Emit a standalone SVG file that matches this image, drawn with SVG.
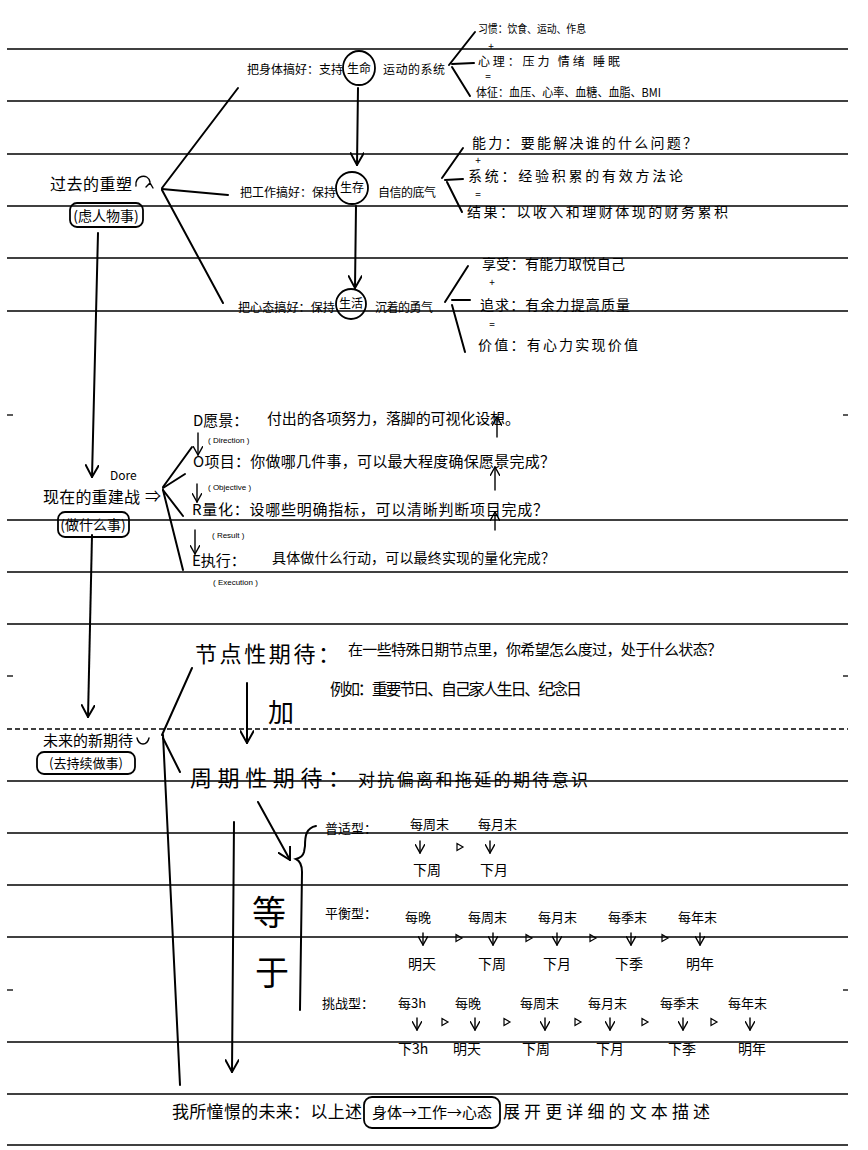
<svg xmlns="http://www.w3.org/2000/svg" width="868" height="1150" viewBox="0 0 868 1150">
<style>
.rl{stroke:#000;stroke-width:1.3;fill:none}
.dl{stroke:#000;stroke-width:1.3;stroke-dasharray:5 3;fill:none}
.c{stroke:#000;stroke-width:2;fill:none;stroke-linecap:round}
.ct{stroke:#000;stroke-width:1.4;fill:none;stroke-linecap:round}
.tri{stroke:#000;stroke-width:1.2;fill:none}
.bx{stroke:#000;stroke-width:1.8;fill:none}
text{font-family:"Noto Sans CJK SC","Noto Sans",sans-serif;fill:#000}
.s10{font-size:10px}.s11{font-size:11px}.s12{font-size:12px}.s13{font-size:13px}.s14{font-size:14px}.s15{font-size:15px}.s16{font-size:16px}.s17{font-size:17px}.s22{font-size:22px}
.sm{font-size:8px;font-family:"Liberation Sans",sans-serif}
</style>
<defs>
<marker id="ah" viewBox="0 0 10 10" refX="9" refY="5" markerWidth="7" markerHeight="7" orient="auto-start-reverse"><path d="M0,0 L9,5 L0,10" fill="none" stroke="#000" stroke-width="1.4"/></marker>
<polygon id="tri" class="tri" points="-3,-3.5 3,0 -3,3.5"/>
</defs>
<rect width="868" height="1150" fill="#fff"/>
<g id="rules">
<line class="rl" x1="7" y1="49" x2="848" y2="49"/>
<line class="rl" x1="7" y1="101" x2="848" y2="101"/>
<line class="rl" x1="7" y1="154" x2="848" y2="154"/>
<line class="rl" x1="7" y1="206" x2="848" y2="206"/>
<line class="rl" x1="7" y1="258" x2="848" y2="258"/>
<line class="rl" x1="7" y1="311" x2="848" y2="311"/>
<line class="rl" x1="7" y1="415" x2="13" y2="415"/><line class="rl" x1="843" y1="415" x2="848" y2="415"/>
<line class="rl" x1="7" y1="520" x2="848" y2="520"/>
<line class="rl" x1="7" y1="572" x2="848" y2="572"/>
<line class="rl" x1="7" y1="624" x2="848" y2="624"/>
<line class="rl" x1="7" y1="676" x2="13" y2="676"/><line class="rl" x1="843" y1="676" x2="848" y2="676"/>
<line class="dl" x1="7" y1="729" x2="848" y2="729"/>
<line class="rl" x1="7" y1="781" x2="848" y2="781"/>
<line class="rl" x1="7" y1="833" x2="848" y2="833"/>
<line class="rl" x1="7" y1="885" x2="848" y2="885"/>
<line class="rl" x1="7" y1="937" x2="848" y2="937"/>
<line class="rl" x1="7" y1="990" x2="13" y2="990"/><line class="rl" x1="843" y1="990" x2="848" y2="990"/>
<line class="rl" x1="7" y1="1042" x2="848" y2="1042"/>
<line class="rl" x1="7" y1="1094" x2="848" y2="1094"/>
<line class="rl" x1="7" y1="1145" x2="848" y2="1145"/>
</g>
<g id="connectors">
<line class="c" x1="162" y1="188" x2="238" y2="88"/>
<line class="c" x1="162" y1="189" x2="228" y2="195"/>
<line class="c" x1="162" y1="190" x2="223" y2="303"/>
<line class="c" x1="358" y1="88" x2="357" y2="165" marker-end="url(#ah)"/>
<line class="c" x1="356" y1="206" x2="355" y2="288" marker-end="url(#ah)"/>
<line class="c" x1="449" y1="65" x2="475" y2="32"/>
<line class="c" x1="452" y1="64" x2="474" y2="63"/>
<line class="c" x1="452" y1="67" x2="470" y2="96"/>
<line class="c" x1="442" y1="178" x2="463" y2="148"/>
<line class="c" x1="445" y1="180" x2="463" y2="179"/>
<line class="c" x1="447" y1="182" x2="462" y2="212"/>
<line class="c" x1="445" y1="302" x2="468" y2="266"/>
<line class="c" x1="452" y1="300" x2="470" y2="300"/>
<line class="c" x1="452" y1="305" x2="465" y2="352"/>
<line class="c" x1="98" y1="233" x2="92" y2="477" marker-end="url(#ah)"/>
<line class="c" x1="163" y1="487" x2="192" y2="447"/>
<line class="c" x1="163" y1="488" x2="185" y2="474"/>
<line class="c" x1="163" y1="490" x2="183" y2="516"/>
<line class="c" x1="163" y1="490" x2="183" y2="570"/>
<line class="ct" x1="198" y1="433" x2="198" y2="455" marker-end="url(#ah)"/>
<line class="ct" x1="197" y1="484" x2="197" y2="502" marker-end="url(#ah)"/>
<line class="ct" x1="195" y1="530" x2="195" y2="554" marker-end="url(#ah)"/>
<line class="ct" x1="497" y1="437" x2="497" y2="417" marker-end="url(#ah)"/>
<line class="ct" x1="495" y1="490" x2="495" y2="467" marker-end="url(#ah)"/>
<line class="ct" x1="495" y1="530" x2="495" y2="512" marker-end="url(#ah)"/>
<line class="c" x1="92" y1="535" x2="88" y2="717" marker-end="url(#ah)"/>
<line class="c" x1="162" y1="735" x2="192" y2="668"/>
<line class="c" x1="163" y1="738" x2="180" y2="772"/>
<line class="c" x1="163" y1="735" x2="180" y2="1085"/>
<line class="c" x1="247" y1="683" x2="247" y2="743" marker-end="url(#ah)"/>
<line class="c" x1="258" y1="802" x2="290" y2="860" marker-end="url(#ah)"/>
<line class="c" x1="234" y1="822" x2="232" y2="1072" marker-end="url(#ah)"/>
<path class="c" d="M316,826 C306,828 305,836 305,846 L304,852 C303,856 300,858 296,859 C300,861 302,865 302,872 L300,1010"/>
<path class="ct" d="M136,186 C134,176 148,172 150,182 M146,187 L150,183 L153,188"/>
<path class="ct" d="M137,738 C139,746 147,746 149,738"/>
<g id="seq-arrows">
<line class="ct" x1="420" y1="841" x2="420" y2="853" marker-end="url(#ah)"/>
<line class="ct" x1="490" y1="841" x2="490" y2="853" marker-end="url(#ah)"/>
<use href="#tri" x="460" y="847"/>
<line class="ct" x1="423" y1="933" x2="423" y2="945" marker-end="url(#ah)"/>
<line class="ct" x1="493" y1="933" x2="493" y2="945" marker-end="url(#ah)"/>
<line class="ct" x1="557" y1="933" x2="557" y2="945" marker-end="url(#ah)"/>
<line class="ct" x1="631" y1="933" x2="631" y2="945" marker-end="url(#ah)"/>
<line class="ct" x1="700" y1="933" x2="700" y2="945" marker-end="url(#ah)"/>
<use href="#tri" x="459" y="938"/>
<use href="#tri" x="529" y="938"/>
<use href="#tri" x="593" y="938"/>
<use href="#tri" x="665" y="938"/>
<line class="ct" x1="417" y1="1018" x2="417" y2="1030" marker-end="url(#ah)"/>
<line class="ct" x1="475" y1="1018" x2="475" y2="1030" marker-end="url(#ah)"/>
<line class="ct" x1="545" y1="1018" x2="545" y2="1030" marker-end="url(#ah)"/>
<line class="ct" x1="610" y1="1018" x2="610" y2="1030" marker-end="url(#ah)"/>
<line class="ct" x1="683" y1="1018" x2="683" y2="1030" marker-end="url(#ah)"/>
<line class="ct" x1="750" y1="1018" x2="750" y2="1030" marker-end="url(#ah)"/>
<use href="#tri" x="445" y="1022"/>
<use href="#tri" x="507" y="1022"/>
<use href="#tri" x="578" y="1022"/>
<use href="#tri" x="645" y="1022"/>
<use href="#tri" x="714" y="1022"/>
</g>
</g>
<g id="n-body">
<text class="s12" x="247" y="74" textLength="96" lengthAdjust="spacingAndGlyphs">把身体搞好：支持</text>
<ellipse class="bx" cx="359" cy="68" rx="16" ry="17"/>
<text class="s12" x="359" y="73" text-anchor="middle">生命</text>
<text class="s12" x="383" y="74" textLength="62">运动的系统</text>
<text class="s11" x="478" y="33" textLength="108" lengthAdjust="spacingAndGlyphs">习惯：饮食、运动、作息</text>
<text class="s10" x="491" y="50" text-anchor="middle">+</text>
<text class="s12" x="478" y="66" textLength="142">心理：压力 情绪 睡眠</text>
<text class="s10" x="488" y="80" text-anchor="middle">=</text>
<text class="s12" x="476" y="97" textLength="185" lengthAdjust="spacingAndGlyphs">体征：血压、心率、血糖、血脂、BMI</text>
</g>
<g id="n-work">
<text class="s12" x="240" y="197" textLength="96" lengthAdjust="spacingAndGlyphs">把工作搞好：保持</text>
<circle class="bx" cx="352" cy="188" r="16"/>
<text class="s12" x="352" y="192" text-anchor="middle">生存</text>
<text class="s12" x="378" y="197" textLength="58">自信的底气</text>
<text class="s14" x="472" y="148" textLength="225">能力：要能解决谁的什么问题？</text>
<text class="s10" x="478" y="164" text-anchor="middle">+</text>
<text class="s14" x="468" y="181" textLength="215">系统：经验积累的有效方法论</text>
<text class="s10" x="478" y="198" text-anchor="middle">=</text>
<text class="s14" x="467" y="217" textLength="261">结果：以收入和理财体现的财务累积</text>
</g>
<g id="n-mind">
<text class="s12" x="238" y="312" textLength="97" lengthAdjust="spacingAndGlyphs">把心态搞好：保持</text>
<circle class="bx" cx="351" cy="304" r="15"/>
<text class="s12" x="351" y="308" text-anchor="middle">生活</text>
<text class="s12" x="375" y="312" textLength="58">沉着的勇气</text>
<text class="s14" x="482" y="269" textLength="143">享受：有能力取悦自己</text>
<text class="s10" x="492" y="286" text-anchor="middle">+</text>
<text class="s14" x="480" y="310" textLength="150">追求：有余力提高质量</text>
<text class="s10" x="492" y="328" text-anchor="middle">=</text>
<text class="s14" x="478" y="350" textLength="160">价值：有心力实现价值</text>
</g>
<g id="n-past">
<text class="s16" x="50" y="190" textLength="82">过去的重塑</text>
<rect class="bx" x="70" y="203" width="73" height="24" rx="7"/>
<text class="s14" x="106" y="221" text-anchor="middle">(虑人物事)</text>
</g>
<g id="n-now">
<text class="s12" x="110" y="480" font-family="Liberation Sans">Dore</text>
<text class="s16" x="43" y="503" textLength="97">现在的重建战</text>
<text class="s16" x="145" y="502">⇒</text>
<rect class="bx" x="58" y="512" width="71" height="25" rx="7"/>
<text class="s14" x="93" y="530" text-anchor="middle">(做什么事)</text>
</g>
<g id="n-dore">
<text class="s15" x="193" y="426">D愿景：</text>
<text class="s15" x="267" y="424" textLength="253">付出的各项努力，落脚的可视化设想。</text>
<text class="sm" x="208" y="443">( Direction )</text>
<text class="s15" x="193" y="467" textLength="362">O项目：你做哪几件事，可以最大程度确保愿景完成？</text>
<text class="sm" x="208" y="490">( Objective )</text>
<text class="s15" x="192" y="515" textLength="356">R量化：设哪些明确指标，可以清晰判断项目完成？</text>
<text class="sm" x="212" y="538">( Result )</text>
<text class="s15" x="192" y="566">E执行：</text>
<text class="s14" x="272" y="563" textLength="283">具体做什么行动，可以最终实现的量化完成？</text>
<text class="sm" x="213" y="585">( Execution )</text>
</g>
<g id="n-future">
<text class="s15" x="43" y="746" textLength="90">未来的新期待</text>
<rect class="bx" x="37" y="752" width="98" height="22" rx="7"/>
<text class="s13" x="86" y="768" text-anchor="middle">(去持续做事)</text>
</g>
<g id="n-node">
<text class="s22" x="195" y="662" textLength="145">节点性期待：</text>
<text class="s15" x="348" y="655" textLength="374">在一些特殊日期节点里，你希望怎么度过，处于什么状态？</text>
<text x="268" y="722" font-size="26">加</text>
<text class="s16" x="330" y="695" textLength="252">例如：重要节日、自己家人生日、纪念日</text>
</g>
<g id="n-cycle">
<text class="s22" x="190" y="786" textLength="160">周期性期待：</text>
<text class="s17" x="358" y="786" textLength="230">对抗偏离和拖延的期待意识</text>
<text x="252" y="925" font-size="34">等</text>
<text x="255" y="985" font-size="34">于</text>
</g>
<g id="n-types">
<text class="s13" x="325" y="833">普适型：</text>
<text class="s13" x="410" y="829">每周末</text>
<text class="s13" x="478" y="829">每月末</text>
<text class="s14" x="413" y="875">下周</text>
<text class="s14" x="480" y="875">下月</text>
<text class="s13" x="325" y="918">平衡型：</text>
<text class="s13" x="405" y="922">每晚</text>
<text class="s13" x="468" y="922">每周末</text>
<text class="s13" x="538" y="922">每月末</text>
<text class="s13" x="608" y="922">每季末</text>
<text class="s13" x="678" y="922">每年末</text>
<text class="s14" x="408" y="969">明天</text>
<text class="s14" x="478" y="969">下周</text>
<text class="s14" x="543" y="969">下月</text>
<text class="s14" x="615" y="969">下季</text>
<text class="s14" x="686" y="969">明年</text>
<text class="s13" x="322" y="1008">挑战型：</text>
<text class="s13" x="398" y="1008">每3h</text>
<text class="s13" x="455" y="1008">每晚</text>
<text class="s13" x="520" y="1008">每周末</text>
<text class="s13" x="588" y="1008">每月末</text>
<text class="s13" x="660" y="1008">每季末</text>
<text class="s13" x="728" y="1008">每年末</text>
<text class="s14" x="398" y="1054">下3h</text>
<text class="s14" x="453" y="1054">明天</text>
<text class="s14" x="522" y="1054">下周</text>
<text class="s14" x="596" y="1054">下月</text>
<text class="s14" x="668" y="1054">下季</text>
<text class="s14" x="738" y="1054">明年</text>
</g>
<g id="n-vision">
<text class="s17" x="172" y="1118" textLength="190">我所憧憬的未来：以上述</text>
<rect class="bx" x="364" y="1097" width="136" height="31" rx="8"/>
<text class="s15" x="432" y="1118" text-anchor="middle">身体→工作→心态</text>
<text class="s17" x="503" y="1118" textLength="207">展开更详细的文本描述</text>
</g>
</svg>
